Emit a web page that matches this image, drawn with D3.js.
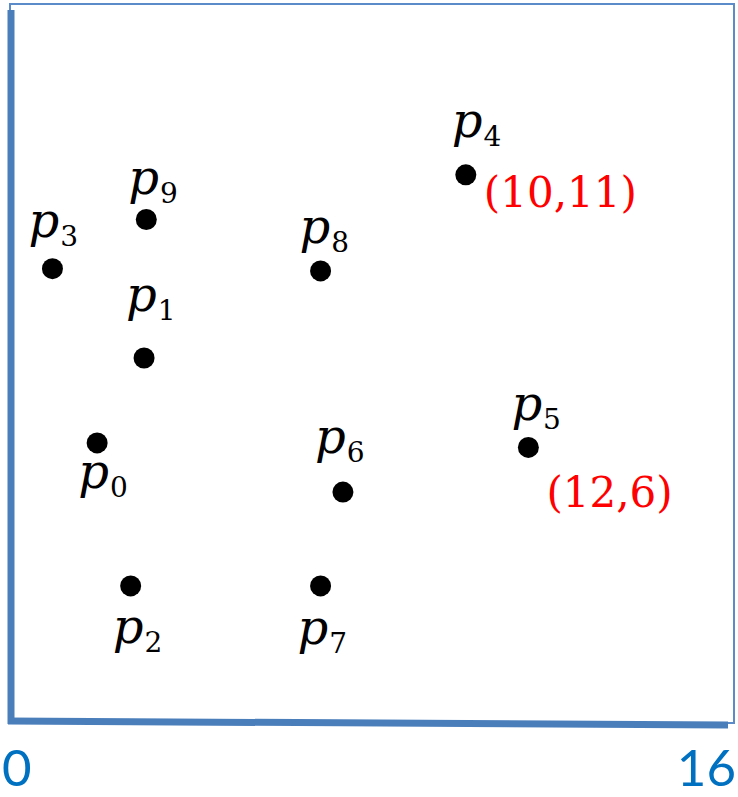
<!DOCTYPE html>
<html lang="en">
<head>
  <meta charset="UTF-8">
  <title>Points p0 - p9</title>
  <script src="https://d3js.org/d3.v7.min.js"></script>
  <style>
    body {
      margin: 0;
      background-color: #ffffff;
    }
    #chart {
      display: block;
    }
  </style>
</head>
<body>
  <svg id="chart" width="738" height="797"></svg>

  <script>
    // point coordinates
    const pointIds = [0, 1, 2, 3, 4, 5, 6, 7, 8, 9];
    const xValues = [1.95, 3.0, 2.7, 0.95, 10.2, 11.6, 7.45, 6.95, 6.95, 3.05];
    const yValues = [6.2, 8.1, 3.0, 10.1, 12.2, 6.1, 5.1, 3.0, 10.05, 11.2];

    // red coordinate notes next to two of the points
    const notePoints = [4, 5];
    const noteTexts = ["(10,11)", "(12,6)"];

    const xTicks = [0, 16];

    const x = d3.scaleLinear().domain([0, 16]).range([10, 725]);
    const y = d3.scaleLinear().domain([0, 16]).range([720, 5]);

    const svg = d3.select("#chart");

    // thin frame
    svg.append("rect")
      .attr("x", 10)
      .attr("y", 4)
      .attr("width", 724)
      .attr("height", 719)
      .attr("fill", "none")
      .attr("stroke", "#5B8BC9")
      .attr("stroke-width", 2);

    // thick axes
    svg.append("line")
      .attr("x1", x(0) + 1).attr("y1", 10)
      .attr("x2", x(0) + 1).attr("y2", 724)
      .attr("stroke", "#4A7EBB")
      .attr("stroke-width", 7);

    svg.append("line")
      .attr("x1", x(0) - 2).attr("y1", y(0) + 1)
      .attr("x2", x(16) + 3).attr("y2", y(0) + 5)
      .attr("stroke", "#4A7EBB")
      .attr("stroke-width", 7);

    // tick labels, first one flush left, last one flush right
    svg.selectAll(".tick-label")
      .data(xTicks)
      .enter()
      .append("text")
      .attr("class", "tick-label")
      .attr("x", (d, i) => (i === 0 ? x(d) - 8 : x(d) + 11))
      .attr("y", 786)
      .attr("text-anchor", (d, i) => (i === 0 ? "start" : "end"))
      .attr("fill", "#0070C0")
      .style("font-family", "Lato, 'Open Sans', sans-serif")
      .style("font-size", "51px")
      .text((d) => d);

    // dots
    svg.selectAll(".dot")
      .data(pointIds)
      .enter()
      .append("circle")
      .attr("class", "dot")
      .attr("cx", (i) => x(xValues[i]))
      .attr("cy", (i) => y(yValues[i]))
      .attr("r", 10.5)
      .attr("fill", "#000");

    // label placement relative to each dot: [dx, dy of baseline]
    const labelOffset = {
      0: [-19, 45], 1: [-18, -47], 2: [-18, 57], 3: [-24, -32], 4: [-14, -38],
      5: [-17, -27], 6: [-28, -39], 7: [-23, 58], 8: [-21, -28], 9: [-18, -26]
    };

    const labels = svg.selectAll(".label")
      .data(pointIds)
      .enter()
      .append("text")
      .attr("class", "label")
      .attr("x", (i) => x(xValues[i]) + labelOffset[i][0])
      .attr("y", (i) => y(yValues[i]) + labelOffset[i][1])
      .attr("fill", "#000")
      .style("font-family", "'DejaVu Serif', serif");

    labels.append("tspan")
      .style("font-style", "italic")
      .style("font-size", "48px")
      .text("p");

    labels.append("tspan")
      .attr("dx", 1)
      .attr("dy", 9)
      .style("font-size", "28px")
      .text((i) => i);

    // coordinate notes
    svg.selectAll(".note")
      .data(notePoints)
      .enter()
      .append("text")
      .attr("class", "note")
      .attr("x", (i) => x(xValues[i]) + 18)
      .attr("y", (i, k) => y(yValues[i]) + (k === 0 ? 32 : 60))
      .attr("fill", "#FF0000")
      .style("font-family", "'DejaVu Serif', serif")
      .style("font-size", "42px")
      .text((d, k) => noteTexts[k]);
  </script>
</body>
</html>
